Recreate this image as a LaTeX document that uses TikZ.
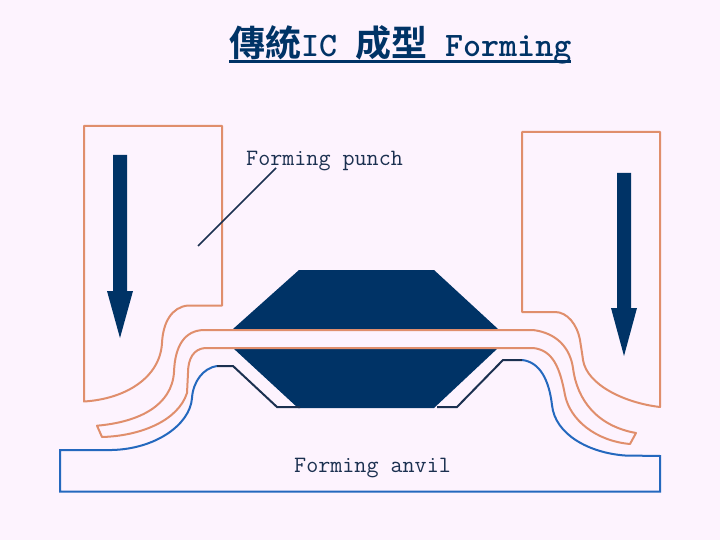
\documentclass[tikz,border=0pt]{standalone}
\usepackage{fontspec}
\newfontfamily\cjk{Noto Sans CJK TC}[BoldFont={Noto Sans CJK TC Bold}]
\definecolor{bgc}{HTML}{FDF3FE}
\definecolor{navyc}{HTML}{003366}
\definecolor{orangec}{HTML}{E08E6C}
\definecolor{bluec}{HTML}{2468BE}
\definecolor{darkc}{HTML}{1B3050}
\tikzset{
  orangeline/.style={draw=orangec,line width=2pt,line join=round},
  blueline/.style={draw=bluec,line width=2pt,line join=miter},
  darkline/.style={draw=darkc,line width=2pt,line join=miter},
  solidnavy/.style={fill=navyc,draw=none},
  labeltext/.style={inner sep=0pt,anchor=base west,text=darkc,font=\ttfamily\fontsize{23.4}{23.4}\selectfont},
}
\begin{document}
\begin{tikzpicture}[x=1pt,y=-1pt]
\fill[bgc] (0,0) rectangle (720,540);
\useasboundingbox (0,0) rectangle (720,540);
% title
\node[inner sep=0pt,anchor=base west,text=navyc] (title) at (229,57)
  {\fontsize{34.3}{36}\selectfont\ttfamily\bfseries\makebox[72pt][l]{\fontsize{36}{36}\cjk\bfseries 傳統}IC\makebox[18pt]{}\makebox[72pt][l]{\fontsize{36}{36}\cjk\bfseries 成型}\makebox[18pt]{}Forming};
\fill[navyc] (229,60) rectangle (571,63);
% chip
\path[solidnavy] (299,270) -- (434,270) -- (498,329) -- (233,329) -- cycle;
\path[solidnavy] (233,348) -- (498,348) -- (434,408) -- (298,408) -- cycle;
% arrows
\path[solidnavy] (113,155) -- (127,155) -- (127,291) -- (133,291) -- (120,338) -- (107,291) -- (113,291) -- cycle;
\path[solidnavy] (617,173) -- (631,173) -- (631,308) -- (637,308) -- (624,356) -- (611,308) -- (617,308) -- cycle;
% left punch
\draw[orangeline] (84,126) -- (222,126) -- (222,305.5) -- (188,305.5)
  .. controls (172,307) and (163,322) .. (162,343)
  .. controls (160,378) and (125,399) .. (84,401.5) -- cycle;
% right punch
\draw[orangeline] (522,132) -- (660,132) -- (660,407)
  .. controls (625,403) and (587,385) .. (583,360)
  .. controls (582,352) and (581,347) .. (580,340)
  .. controls (577,324) and (567,312) .. (555,312) -- (522,312) -- cycle;
% lead strip
\draw[orangeline] (203,330) -- (533,330)
  .. controls (557,333) and (570,348) .. (573,368)
  .. controls (577,400) and (597,426) .. (636,433)
  -- (630,444)
  .. controls (596,441) and (570,420) .. (565,395)
  .. controls (560,368) and (553,350) .. (533,348)
  -- (205,348)
  .. controls (194,349) and (188,358) .. (188,373)
  -- (187,393)
  .. controls (178,421) and (140,436) .. (102,437)
  -- (97,425.7)
  .. controls (140,422) and (172,405) .. (174,372)
  .. controls (175,345) and (185,331) .. (203,330) -- cycle;
% anvil
\draw[blueline] (217,366)
  .. controls (203,368) and (193,382) .. (192,398)
  .. controls (190,425) and (155,449) .. (112,450)
  -- (60,450) -- (60,491.5) -- (660,491.5) -- (660,456) -- (625,455.5)
  .. controls (590,453) and (555,435) .. (552,405)
  .. controls (549,380) and (540,362) .. (522,360);
\draw[darkline] (217,366) -- (233,366) -- (277,407) -- (300,407);
\draw[darkline] (437,407) -- (457,407) -- (503,360) -- (522,360);
% labels
\node[labeltext] (punch) at (246,166) {Forming punch};
\node[labeltext] (anvil) at (294,472) {Forming anvil};
\coordinate (leadA) at (276,168);
\coordinate (leadB) at (198,246);
\draw[darkline,line width=1.5pt] (leadA) -- (leadB);
\end{tikzpicture}
\end{document}
